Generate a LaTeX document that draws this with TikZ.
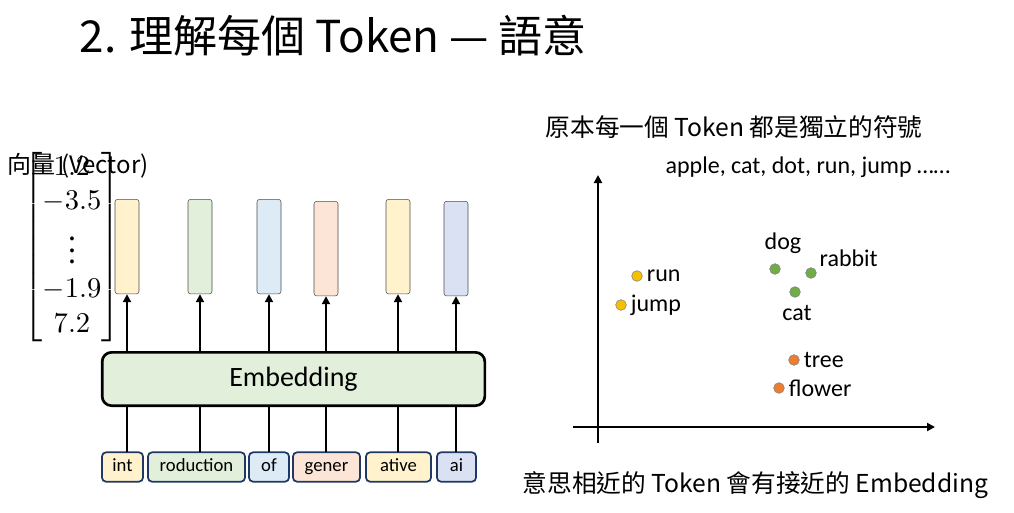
\documentclass[tikz,border=0pt]{standalone}
\usepackage{amsmath}
\usepackage{graphicx}
\usepackage{fontspec}
\setmainfont{Noto Sans CJK TC}
\newfontfamily\lat{Carlito}
\usetikzlibrary{arrows.meta}
\definecolor{cy}{HTML}{FFF2CC}\definecolor{cg}{HTML}{E2EFDA}\definecolor{cb}{HTML}{DDEBF7}
\definecolor{co}{HTML}{FCE4D6}\definecolor{cv}{HTML}{D9E1F2}\definecolor{bd}{HTML}{203864}
\definecolor{py}{HTML}{F5C000}\definecolor{pg}{HTML}{70AD47}\definecolor{po}{HTML}{ED7D31}
\begin{document}
\begin{tikzpicture}[x=0.75pt,y=-0.75pt,
 bar/.style={draw=black!70,rounded corners=2pt,minimum width=18pt,minimum height=71pt,inner sep=0},
 tok/.style={draw=bd,line width=1.3pt,rounded corners=3pt,minimum height=22pt,inner sep=0,text height=9pt,text depth=3pt,font=\lat\fontsize{14}{14}\selectfont},
 up/.style={line width=1.5pt,-{Triangle[length=6pt,width=6pt]}},
 ln/.style={line width=1.5pt},
 dot/.style={circle,draw=black!50,inner sep=0,minimum size=8pt},
 lbl/.style={font=\lat\fontsize{18}{18}\selectfont,inner sep=1pt}]
\useasboundingbox (0,0) rectangle (1014,512);
\node[anchor=west,font=\fontsize{33}{33}\selectfont] (title) at (75,36) {2. 理解每個 Token — 語意};
\node[anchor=west,font=\fontsize{18}{18}\selectfont] (vec) at (3,166) {向量 (Vector)};
\node[inner sep=0] (mat) at (72,247) {\resizebox{!}{77pt}{$\begin{bmatrix}1.2\\-3.5\\ \vdots\\ -1.9\\ 7.2\end{bmatrix}$}};
\foreach \n/\x/\c/\t in {a/127/cy/199,b/200/cg/199,c/269/cb/199,d/326/co/201,e/398/cy/199,f/456/cv/201}
  \node[bar,fill=\c,anchor=north] (v\n) at (\x,\t) {};
\node[draw,line width=2pt,rounded corners=7pt,fill=cg,minimum width=287pt,minimum height=40pt,font=\lat\fontsize{21}{21}\selectfont] (emb) at (293.5,379) {Embedding};
\foreach \n/\l/\r/\c/\t/\x in {a/102/143/cy/int/127,b/148/245/cg/roduction/200,c/249/289/cb/of/269,d/293/360/co/gener/326,e/366/431/cy/ative/398,f/437/476/cv/ai/456}{
  \node[tok,fill=\c,minimum width={(\r-\l)*0.75pt}] (t\n) at ({(\l+\r)/2},467) {\t};
  \coordinate (bt\n) at (\x,405); \coordinate (tt\n) at (\x,452);
  \coordinate (et\n) at (\x,352);
  \draw[ln] (tt\n) -- (bt\n);
  \draw[up] (et\n) -- (v\n.south);}
% right
\node[anchor=west,font=\fontsize{18.5}{18.5}\selectfont] (t1) at (541,127) {原本每一個 Token 都是獨立的符號};
\node[anchor=west,lbl] (t2) at (664,167) {apple, cat, dot, run, jump ……};
\node[anchor=west,font=\fontsize{18.5}{18.5}\selectfont] (t3) at (518,485) {意思相近的 Token 會有接近的 Embedding};
\coordinate (o1) at (598,443); \coordinate (yt) at (598,175);
\coordinate (o2) at (573,427); \coordinate (xt) at (935,427);
\draw[up] (o1) -- (yt); \draw[up] (o2) -- (xt);
\node[dot,fill=py] (run) at (637,276) {}; \node[lbl,anchor=west] at ([xshift=2pt]run.east) {run};
\node[dot,fill=py] (jump) at (621,305) {}; \node[lbl,anchor=west] at ([xshift=2pt]jump.east) {jump};
\node[dot,fill=pg] (dog) at (775,269) {}; \node[lbl] at (783,243) {dog};
\node[dot,fill=pg] (rab) at (811,273) {}; \node[lbl,anchor=west] at (818,258) {rabbit};
\node[dot,fill=pg] (cat) at (795,292) {}; \node[lbl] at (797,313) {cat};
\node[dot,fill=po] (tree) at (794,360) {}; \node[lbl,anchor=west] at ([xshift=2pt]tree.east) {tree};
\node[dot,fill=po] (fl) at (779,388) {}; \node[lbl,anchor=west] at ([xshift=2pt]fl.east) {flower};
\end{tikzpicture}
\end{document}
